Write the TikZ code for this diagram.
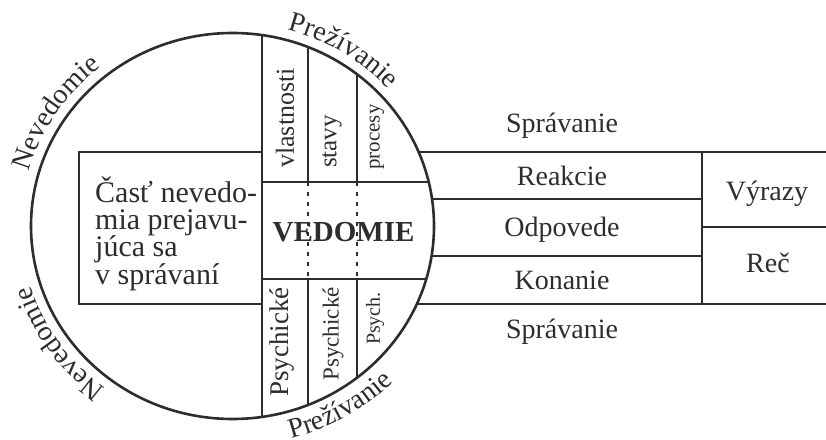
\documentclass[tikz,border=0pt]{standalone}
\usepackage{fontspec}
\setmainfont{Liberation Serif}
\usetikzlibrary{decorations.text}
\definecolor{ink}{RGB}{45,45,48}
\newcommand\fs[1]{\fontsize{#1}{#1}\selectfont}
\begin{document}
\begin{tikzpicture}[x=1pt,y=1pt,
  declare function={ex(\t)=232.5+201.5*sqrt(1-((\t-213)/193)^2); ey(\t)=193*sqrt(1-((\t-232.5)/201.5)^2);},
  ln/.style={draw=ink, line width=2pt},
  dotln/.style={draw=ink, line width=2pt, dash pattern=on 4pt off 6pt},
  lbl/.style={text=ink, inner sep=0pt, font=\fs{28}},
  boxlbl/.style={text=ink, inner sep=0pt, font=\fs{30}, anchor=base west},
  vlbl/.style={text=ink, inner sep=0pt, rotate=90},
  arctext/.style={decorate, decoration={text along path, text align=center, text color=ink, text={|\fs{28}|#1}}}]
\useasboundingbox (0,0) rectangle (826,439);

% circle
\draw[draw=ink, line width=2.6pt] (232.5,213) ellipse [x radius=201.5, y radius=193];

% vertical lines inside circle
\draw[ln] (261.5,{213+ey(261.5)}) -- (261.5,{213-ey(261.5)});
\draw[ln] (308,{213+ey(308)}) -- (308,257);
\draw[dotln] (308,257) -- (308,160);
\draw[ln] (308,160) -- (308,{213-ey(308)});
\draw[ln] (357,{213+ey(357)}) -- (357,257);
\draw[dotln] (357,257) -- (357,160);
\draw[ln] (357,160) -- (357,{213-ey(357)});

% VEDOMIE band
\draw[ln] (261.5,257) -- ({ex(257)},257);
\draw[ln] (261.5,160) -- ({ex(160)},160);

% left box
\draw[ln] (261.5,287) -- (79,287) -- (79,134.5) -- (261.5,134.5);

% right side
\draw[ln] ({ex(287)},287) -- (826,287);
\draw[ln] ({ex(134.5)},134.5) -- (826,134.5);
\draw[ln] ({ex(240)},240) -- (702,240);
\draw[ln] ({ex(183)},183) -- (702,183);
\draw[ln] (702,287) -- (702,134.5);
\draw[ln] (702,212) -- (826,212);

% texts in circle
\node[lbl, anchor=base, font=\fs{29}\bfseries] (ved) at (343.5,197) {VEDOMIE};
\node[vlbl, anchor=west, font=\fs{26}] (vl) at (285,271) {vlastnosti};
\node[vlbl, anchor=west, font=\fs{25}] (st) at (332,271) {stavy};
\node[vlbl, anchor=west, font=\fs{21}] (pr) at (377,269) {procesy};
\node[vlbl, anchor=east, font=\fs{27}] (ps1) at (282,152) {Psychické};
\node[vlbl, anchor=east, font=\fs{23}] (ps2) at (333,152) {Psychické};
\node[vlbl, anchor=east, font=\fs{20}] (ps3) at (375,147) {Psych.};

% left box text
\node[boxlbl] (l1) at (95,236) {Časť nevedo-};
\node[boxlbl] (l2) at (95,209) {mia prejavu-};
\node[boxlbl] (l3) at (95,182) {júca sa};
\node[boxlbl] (l4) at (95,154) {v správaní};

% right texts
\node[lbl, anchor=base] (spr1) at (562,306) {Správanie};
\node[lbl, anchor=base] (rea) at (562,253) {Reakcie};
\node[lbl, anchor=base] (odp) at (562,202) {Odpovede};
\node[lbl, anchor=base] (kon) at (562,149) {Konanie};
\node[lbl, anchor=base] (spr2) at (562,101) {Správanie};
\node[lbl, anchor=base] (vyr) at (767,238) {Výrazy};
\node[lbl, anchor=base] (rec) at (768,166) {Reč};

% curved texts
\path[arctext=Nevedomie] (232.5,213) ++(175:211.5 and 203) arc[start angle=175, end angle=118, x radius=211.5, y radius=203];
\path[arctext=Prežívanie] (232.5,213) ++(85:211.5 and 203) arc[start angle=85, end angle=32, x radius=211.5, y radius=203];
\path[arctext=Nevedomie] (232.5,213) ++(245:211.5 and 203) arc[start angle=245, end angle=185, x radius=211.5, y radius=203];
\path[arctext=Prežívanie] (232.5,213) ++(270:228.5 and 220) arc[start angle=270, end angle=330, x radius=228.5, y radius=220];
\end{tikzpicture}
\end{document}
